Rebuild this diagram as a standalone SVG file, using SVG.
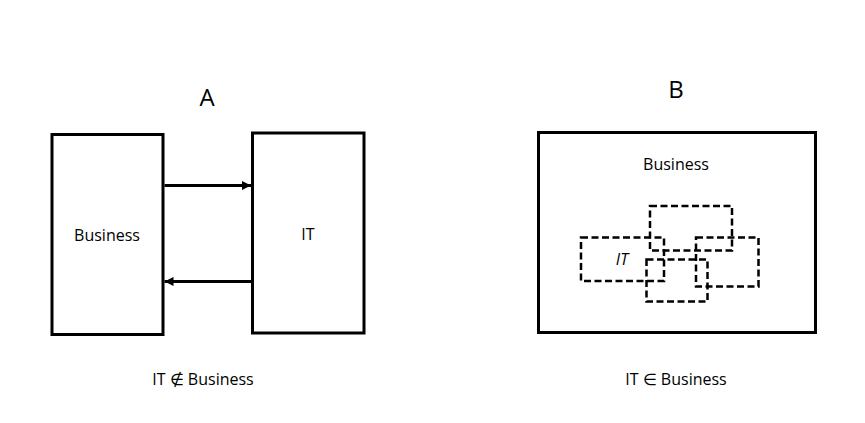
<svg xmlns="http://www.w3.org/2000/svg" width="865" height="423" viewBox="0 0 865 423">
<style>
text{font-family:"Open Sans","Noto Sans","Liberation Sans",sans-serif;fill:#000}
.box{fill:none;stroke:#000;stroke-width:3}
.dash{fill:none;stroke:#000;stroke-width:2.5;stroke-dasharray:7,3.5}
.lbl{font-size:16px;text-anchor:middle}
.ttl{font-size:24px;text-anchor:middle}
.edge{stroke:#000;stroke-width:3;fill:none}
</style>
<defs>
<marker id="ah" viewBox="0 0 10 10" refX="10" refY="5" markerWidth="3.5" markerHeight="3" orient="auto" markerUnits="strokeWidth">
<path d="M0,0 L10,5 L0,10 z" fill="#000"/>
</marker>
</defs>
<rect width="865" height="423" fill="#fff"/>
<text class="ttl" x="207" y="106">A</text>
<text class="ttl" x="676" y="98">B</text>
<g id="businessA">
<rect class="box" x="52" y="134.5" width="111" height="200"/>
<text class="lbl" x="107" y="241">Business</text>
</g>
<g id="itA">
<rect class="box" x="252.5" y="133" width="111.5" height="200"/>
<text class="lbl" x="308" y="240">IT</text>
</g>
<g id="connectors">
<line class="edge" x1="164.5" y1="185.5" x2="251" y2="185.5" marker-end="url(#ah)"/>
<line class="edge" x1="251" y1="281.5" x2="164.5" y2="281.5" marker-end="url(#ah)"/>
</g>
<text class="lbl" x="203" y="385">IT ∉ Business</text>
<g id="businessB">
<rect class="box" x="538.5" y="132.5" width="277" height="200"/>
<text class="lbl" x="676" y="170">Business</text>
</g>
<g id="itB">
<rect class="dash" x="581" y="237.5" width="83" height="43.5"/>
<rect class="dash" x="650" y="206" width="82" height="44.5"/>
<rect class="dash" x="696" y="237.5" width="62.5" height="49"/>
<rect class="dash" x="646.5" y="259.5" width="61" height="42"/>
<text class="lbl" x="622" y="265" font-style="italic">IT</text>
</g>
<text class="lbl" x="676" y="385">IT ∈ Business</text>
</svg>
